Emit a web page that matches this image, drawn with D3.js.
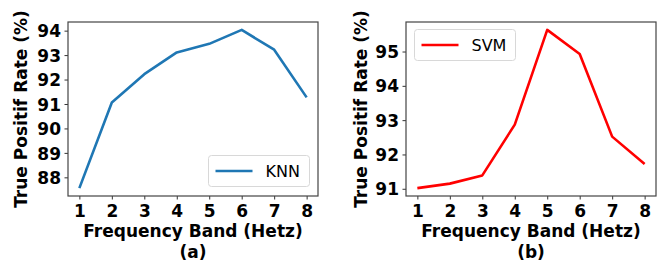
<!DOCTYPE html>
<html lang="en">
<head>
    <meta charset="UTF-8">
    <title>True Positif Rate - KNN / SVM</title>
    <script src="https://d3js.org/d3.v7.min.js"></script>
    <style>
        body {
            margin: 0;
            background: #fff;
        }
        text {
            font-family: 'DejaVu Sans', sans-serif;
        }
        .tick text {
            font-size: 17px;
            font-weight: bold;
            fill: #000;
        }
        .label {
            font-size: 17px;
            font-weight: bold;
            fill: #000;
        }
        .legend-text {
            font-size: 16px;
            fill: #000;
        }
    </style>
</head>
<body>
<script>
    // Données
    const bands = [1, 2, 3, 4, 5, 6, 7, 8];
    const knnRate = [87.56, 91.06, 92.22, 93.11, 93.46, 94.03, 93.22, 91.27];
    const svmRate = [91.02, 91.15, 91.39, 92.87, 95.63, 94.93, 92.52, 91.72];
    const knnTicks = [88, 89, 90, 91, 92, 93, 94];
    const svmTicks = [91, 92, 93, 94, 95];

    const width = 661;
    const height = 262;

    const svg = d3.select("body")
        .append("svg")
        .attr("width", width)
        .attr("height", height);

    // Dessine un panneau (axes + courbe + légende)
    function drawPanel(opts) {
        const x0 = opts.left, x1 = opts.left + 250;
        const y0 = 22, y1 = 196;

        const values = opts.values;
        const vmin = d3.min(values), vmax = d3.max(values);
        const pad = (vmax - vmin) * 0.05;

        const xScale = d3.scaleLinear()
            .domain([0.65, 8.35])
            .range([x0, x1]);

        const yScale = d3.scaleLinear()
            .domain([vmin - pad, vmax + pad])
            .range([y1, y0]);

        const g = svg.append("g");

        // axe x
        g.append("g")
            .attr("transform", `translate(0,${y1})`)
            .call(d3.axisBottom(xScale).tickValues(bands).tickSize(3.5).tickPadding(4).tickFormat(d3.format("d")))
            .call(a => a.select(".domain").remove())
            .call(a => a.selectAll(".tick line").attr("stroke", "#333"))
            .call(a => a.selectAll(".tick text").attr("dy", null).attr("y", 20.5));

        // axe y
        g.append("g")
            .attr("transform", `translate(${x0},0)`)
            .call(d3.axisLeft(yScale).tickValues(opts.ticks).tickSize(3.5).tickPadding(3.5).tickFormat(d3.format("d")))
            .call(a => a.select(".domain").remove())
            .call(a => a.selectAll(".tick line").attr("stroke", "#333"))
            .call(a => a.selectAll(".tick text").attr("dy", "0.36em"));

        // cadre
        g.append("rect")
            .attr("x", x0)
            .attr("y", y0)
            .attr("width", x1 - x0)
            .attr("height", y1 - y0)
            .attr("fill", "none")
            .attr("stroke", "#444")
            .attr("stroke-width", 1.2);

        // courbe
        const line = d3.line()
            .x((d, i) => xScale(bands[i]))
            .y(d => yScale(d));

        g.append("path")
            .datum(values)
            .attr("d", line)
            .attr("fill", "none")
            .attr("stroke", opts.color)
            .attr("stroke-width", 2.6)
            .attr("stroke-linejoin", "round");

        // titres des axes
        const cx = (x0 + x1) / 2;
        g.append("text")
            .attr("class", "label")
            .attr("x", cx)
            .attr("y", 237)
            .attr("text-anchor", "middle")
            .text("Frequency Band (Hetz)");

        g.append("text")
            .attr("class", "label")
            .attr("x", cx)
            .attr("y", 257.5)
            .attr("text-anchor", "middle")
            .text(opts.caption);

        g.append("text")
            .attr("class", "label")
            .attr("transform", `translate(${opts.ylabelX},${(y0 + y1) / 2}) rotate(-90)`)
            .attr("text-anchor", "middle")
            .text("True Positif Rate (%)");

        // légende
        const lg = opts.legend;
        g.append("rect")
            .attr("x", lg.x)
            .attr("y", lg.y)
            .attr("width", 101)
            .attr("height", 31)
            .attr("rx", 3)
            .attr("fill", "#fff")
            .attr("fill-opacity", 0.8)
            .attr("stroke", "#d8d8d8");

        g.append("line")
            .attr("x1", lg.x + 7)
            .attr("x2", lg.x + 44)
            .attr("y1", lg.y + 15.5)
            .attr("y2", lg.y + 15.5)
            .attr("stroke", opts.color)
            .attr("stroke-width", 2.6);

        g.append("text")
            .attr("class", "legend-text")
            .attr("x", lg.x + 57)
            .attr("y", lg.y + 21.5)
            .text(opts.name);
    }

    drawPanel({
        left: 68, values: knnRate, ticks: knnTicks, color: "#1f77b4",
        name: "KNN", caption: "(a)", ylabelX: 27,
        legend: { x: 208.5, y: 155.5 }
    });

    drawPanel({
        left: 406, values: svmRate, ticks: svmTicks, color: "#ff0000",
        name: "SVM", caption: "(b)", ylabelX: 367,
        legend: { x: 414.5, y: 29.5 }
    });
</script>
</body>
</html>
